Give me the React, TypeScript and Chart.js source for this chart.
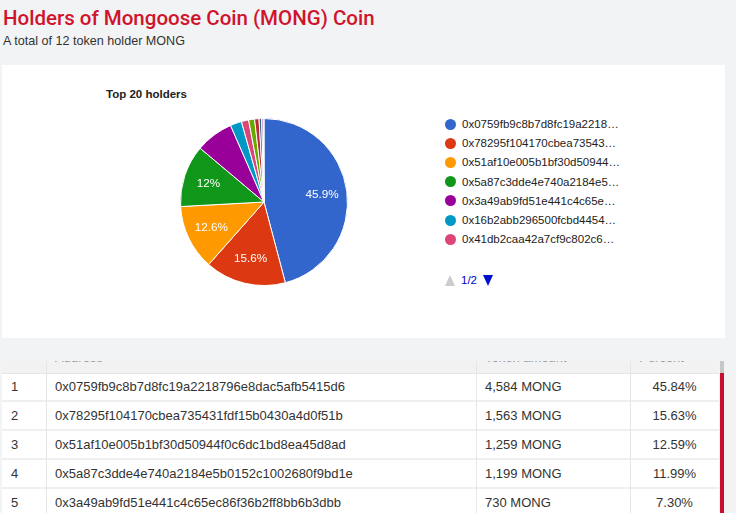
import React, { useEffect, useRef } from "react";
import { Chart, registerables } from "chart.js";

Chart.register(...registerables);

// ---------- data ----------
const holderAddresses = [
  "0x0759fb9c8b7d8fc19a2218796e8dac5afb5415d6",
  "0x78295f104170cbea735431fdf15b0430a4d0f51b",
  "0x51af10e005b1bf30d50944f0c6dc1bd8ea45d8ad",
  "0x5a87c3dde4e740a2184e5b0152c1002680f9bd1e",
  "0x3a49ab9fd51e441c4c65ec86f36b2ff8bb6b3dbb",
  "0x16b2abb296500fcbd4454…",
  "0x41db2caa42a7cf9c802c6…",
  "Holder 8",
  "Holder 9",
  "Holder 10",
  "Holder 11",
  "Holder 12",
];
const holderAmounts = [4584, 1563, 1259, 1199, 730, 220, 140, 115, 85, 50, 30, 15];
const totalSupply = 10000;
const sliceColors = [
  "#3366cc", "#dc3912", "#ff9900", "#109618", "#990099", "#0099c6",
  "#dd4477", "#66aa00", "#b82e2e", "#316395", "#994499", "#22aa99",
];
const tableHeaders = ["", "Address", "Token amount", "Percent"];
const legendPageSize = 7;
const tableRowsShown = 5;

const FONT = '"Liberation Sans", Arial, sans-serif';

const sliceSum = holderAmounts.reduce((a, b) => a + b, 0);

function fitText(label: string, maxPx: number, font: string): string {
  const c = document.createElement("canvas").getContext("2d")!;
  c.font = font;
  if (label.endsWith("…")) return label;
  if (c.measureText(label).width <= maxPx) return label;
  let s = label;
  while (s.length > 1 && c.measureText(s + "…").width > maxPx) s = s.slice(0, -1);
  return s + "…";
}

const sliceLabelPlugin = {
  id: "sliceLabels",
  afterDatasetsDraw(chart: any) {
    const ctx = chart.ctx;
    const meta = chart.getDatasetMeta(0);
    ctx.save();
    ctx.fillStyle = "#ffffff";
    ctx.font = `11.7px ${FONT}`;
    ctx.textAlign = "center";
    ctx.textBaseline = "middle";
    meta.data.forEach((arc: any, i: number) => {
      const pct = (holderAmounts[i] / sliceSum) * 100;
      if (pct < 10) return;
      const { x, y, startAngle, endAngle, outerRadius } = arc.getProps(
        ["x", "y", "startAngle", "endAngle", "outerRadius"],
        true
      );
      const mid = (startAngle + endAngle) / 2;
      const r = outerRadius * 0.7;
      const txt = parseFloat(pct.toPrecision(3)).toString() + "%";
      ctx.fillText(txt, x + Math.cos(mid) * r, y + Math.sin(mid) * r);
    });
    ctx.restore();
  },
};

function PieChart() {
  const ref = useRef<HTMLCanvasElement | null>(null);
  useEffect(() => {
    if (!ref.current) return;
    const chart = new Chart(ref.current, {
      type: "pie",
      data: {
        labels: holderAddresses,
        datasets: [
          {
            data: holderAmounts,
            backgroundColor: sliceColors,
            borderColor: "#ffffff",
            borderWidth: 1,
          },
        ],
      },
      options: {
        animation: false,
        responsive: false,
        devicePixelRatio: 1,
        layout: { padding: 16 },
        plugins: {
          legend: { display: false },
          tooltip: { enabled: false },
          title: { display: false },
        },
      },
      plugins: [sliceLabelPlugin],
    });
    return () => chart.destroy();
  }, []);
  return <canvas ref={ref} width={200} height={200} />;
}

export default function App() {
  const legendFont = `11.5px ${FONT}`;
  const legendItems = holderAddresses.slice(0, legendPageSize);
  const pages = Math.ceil(holderAddresses.length / legendPageSize);
  const rowH = 29;
  const cols = [
    { x: 0, w: 44 },
    { x: 44, w: 430 },
    { x: 474, w: 154 },
    { x: 628, w: 89 },
  ];
  return (
    <div
      style={{
        position: "fixed",
        inset: 0,
        background: "#f2f3f5",
        overflow: "hidden",
        fontFamily: FONT,
      }}
    >
      <div
        style={{
          position: "absolute",
          left: 3,
          top: 8,
          fontFamily: "Roboto, sans-serif",
          fontWeight: 500,
          fontSize: 20.5,
          lineHeight: "21px",
          color: "#d0142c",
          whiteSpace: "nowrap",
        }}
      >
        Holders of Mongoose Coin (MONG) Coin
      </div>
      <div
        style={{
          position: "absolute",
          left: 3,
          top: 35,
          fontSize: 12.6,
          lineHeight: "13px",
          color: "#333",
          whiteSpace: "nowrap",
        }}
      >
        A total of 12 token holder MONG
      </div>

      {/* chart card */}
      <div
        style={{
          position: "absolute",
          left: 2,
          top: 65,
          width: 723,
          height: 273,
          background: "#ffffff",
        }}
      />
      <div
        style={{
          position: "absolute",
          left: 106,
          top: 88,
          fontSize: 11.5,
          lineHeight: "12px",
          fontWeight: "bold",
          color: "#222",
          whiteSpace: "nowrap",
        }}
      >
        Top 20 holders
      </div>
      <div style={{ position: "absolute", left: 164, top: 102, width: 200, height: 200 }}>
        <PieChart />
      </div>
      {legendItems.map((lab, i) => (
        <div
          key={i}
          style={{
            position: "absolute",
            left: 445,
            top: 124 + i * 19.2 - 7,
            height: 14,
            display: "flex",
            alignItems: "center",
            whiteSpace: "nowrap",
          }}
        >
          <span
            style={{
              width: 11,
              height: 11,
              borderRadius: "50%",
              background: sliceColors[i],
              display: "inline-block",
            }}
          />
          <span style={{ marginLeft: 6, font: legendFont, color: "#222", lineHeight: "14px" }}>
            {fitText(lab, 158, legendFont)}
          </span>
        </div>
      ))}
      <div
        style={{
          position: "absolute",
          left: 445,
          top: 274,
          height: 13,
          display: "flex",
          alignItems: "center",
          whiteSpace: "nowrap",
        }}
      >
        <span
          style={{
            width: 0,
            height: 0,
            borderLeft: "5.5px solid transparent",
            borderRight: "5.5px solid transparent",
            borderBottom: "11px solid #cccccc",
            display: "inline-block",
          }}
        />
        <span style={{ marginLeft: 6, font: legendFont, color: "#0000cc", lineHeight: "13px" }}>
          1/{pages}
        </span>
        <span
          style={{
            marginLeft: 6,
            width: 0,
            height: 0,
            borderLeft: "5.5px solid transparent",
            borderRight: "5.5px solid transparent",
            borderTop: "11px solid #0011cc",
            display: "inline-block",
          }}
        />
      </div>

      {/* table */}
      <div
        style={{
          position: "absolute",
          left: 2,
          top: 361,
          width: 724,
          height: 200,
          overflow: "hidden",
          background: "#ffffff",
        }}
      >
        <div
          style={{
            position: "absolute",
            left: 0,
            top: -18,
            width: 717,
            height: 30,
            background: "#f2f2f2",
            borderBottom: "1px solid #e6e6e6",
          }}
        >
          {tableHeaders.map((h, c) => (
            <div
              key={c}
              style={{
                position: "absolute",
                left: cols[c].x + 9,
                top: 8,
                fontSize: 13,
                lineHeight: "14px",
                color: "#999",
                whiteSpace: "nowrap",
              }}
            >
              {h}
            </div>
          ))}
        </div>
        {holderAddresses.slice(0, tableRowsShown).map((addr, r) => {
          const top = 12 + r * rowH;
          const cells = [
            String(r + 1),
            addr,
            holderAmounts[r].toLocaleString("en-US") + " MONG",
            ((holderAmounts[r] / totalSupply) * 100).toFixed(2) + "%",
          ];
          return (
            <div
              key={r}
              style={{
                position: "absolute",
                left: 0,
                top,
                width: 717,
                height: rowH,
                borderBottom: "2px solid #efefef",
                boxSizing: "border-box",
              }}
            >
              {cells.map((t, c) => (
                <div
                  key={c}
                  style={{
                    position: "absolute",
                    left: c === 3 ? cols[c].x : cols[c].x + 9,
                    width: c === 3 ? cols[c].w : undefined,
                    textAlign: c === 3 ? "center" : "left",
                    top: 0,
                    height: rowH - 1,
                    lineHeight: `${rowH - 1}px`,
                    fontSize: 13,
                    color: "#333",
                    whiteSpace: "nowrap",
                  }}
                >
                  {t}
                </div>
              ))}
            </div>
          );
        })}
        {cols.slice(1).map((c, i) => (
          <div
            key={i}
            style={{
              position: "absolute",
              left: c.x,
              top: 0,
              width: 1,
              height: 200,
              background: "#e6e6e6",
            }}
          />
        ))}
        <div
          style={{ position: "absolute", left: 717, top: 0, width: 7, height: 200, background: "#f3f3f3" }}
        />
        <div
          style={{ position: "absolute", left: 718, top: 0, width: 4, height: 12, background: "#c8c8c8" }}
        />
        <div
          style={{ position: "absolute", left: 718, top: 12, width: 4, height: 190, background: "#c8102e" }}
        />
      </div>
    </div>
  );
}
